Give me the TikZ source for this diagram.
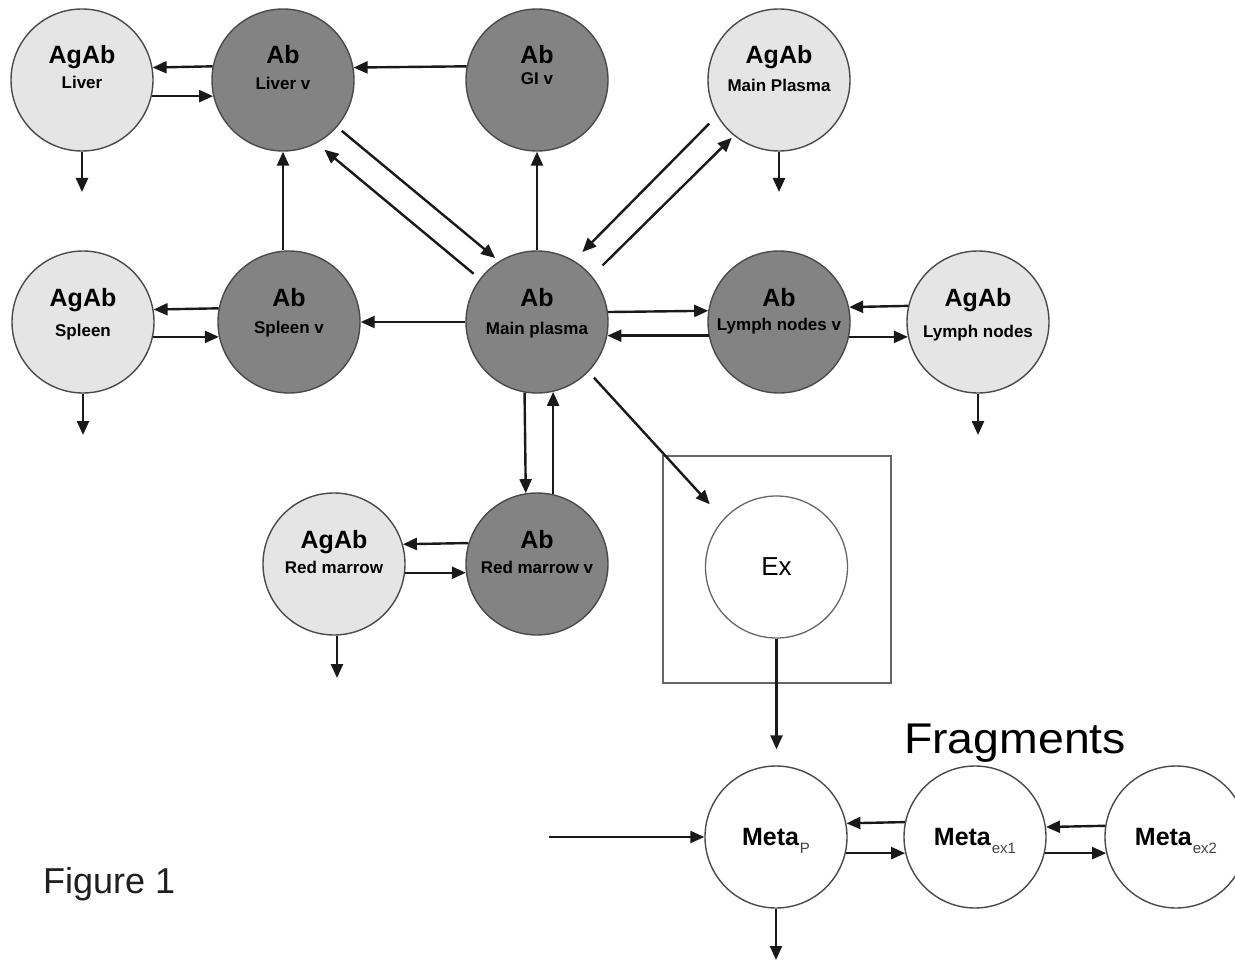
\documentclass[tikz,border=0pt]{standalone}
\usepackage{fontspec}
\setmainfont{Liberation Sans}
\usetikzlibrary{arrows.meta,calc}
\definecolor{lightfill}{HTML}{E5E5E5}
\definecolor{darkfill}{HTML}{838383}
\definecolor{rim}{HTML}{4A4A4A}
\definecolor{boxc}{HTML}{666666}
\definecolor{subgrey}{HTML}{444444}
\newcommand{\twolabel}[4]{%
  \node[ttl] (#1t) at ([yshift=16pt]#1.center) {#2};
  \node[subt] (#1s) at ([yshift=-#4pt]#1.center) {#3};}
\newcommand{\msub}[1]{\kern1pt\raisebox{-8pt}{\fontsize{15}{15}\selectfont\mdseries\color{subgrey}#1}}
\begin{document}
\begin{tikzpicture}[x=1pt,y=-1pt,
  blob/.style={circle, draw=rim, line width=1.4pt, minimum size=142pt, inner sep=0pt},
  agab/.style={blob, fill=lightfill},
  abv/.style={blob, fill=darkfill},
  metac/.style={blob, fill=white},
  ttl/.style={anchor=base, font=\fontsize{25}{25}\selectfont\bfseries, inner sep=0pt},
  subt/.style={anchor=base, font=\fontsize{17}{17}\selectfont\bfseries, inner sep=0pt},
  metat/.style={anchor=base, font=\fontsize{25}{25}\selectfont\bfseries, inner sep=0pt},
  arr/.style={line width=2.4pt, draw=black!90, -{Triangle[length=14pt,width=12pt]}},
]
\useasboundingbox (0,0) rectangle (1235,963);
\clip (0,0) rectangle (1235,963);
\fill[white] (0,0) rectangle (1235,963);

% nodes
\node[agab] (al)  at (82,80)   {};
\node[abv]  (lv)  at (283,80)  {};
\node[abv]  (gi)  at (537,80)  {};
\node[agab] (amp) at (779,80)  {};
\node[agab] (as)  at (83,322)  {};
\node[abv]  (sv)  at (289,322) {};
\node[abv]  (mp)  at (537,322) {};
\node[abv]  (lnv) at (779,322) {};
\node[agab] (aln) at (978,322) {};
\node[agab] (arm) at (334,564) {};
\node[abv]  (rmv) at (537,564) {};
\node[draw=boxc, line width=1.3pt, minimum width=228pt, minimum height=227pt, inner sep=0pt] (exbox) at (777,569.5) {};
\node[blob, fill=white, draw=boxc, line width=1.3pt, font=\fontsize{26}{26}\selectfont] (ex) at (776.5,567) {Ex};
\node[metac] (mP) at (776,837)  {};
\node[metac] (m1) at (975,837)  {};
\node[metac] (m2) at (1176,837) {};

% labels
\twolabel{al}{AgAb}{Liver}{9}
\twolabel{lv}{Ab}{Liver v}{10}
\twolabel{gi}{Ab}{GI v}{5}
\twolabel{amp}{AgAb}{Main Plasma}{12}
\twolabel{as}{AgAb}{Spleen}{14}
\twolabel{sv}{Ab}{Spleen v}{11}
\twolabel{mp}{Ab}{Main plasma}{12}
\twolabel{lnv}{Ab}{Lymph nodes v}{8}
\twolabel{aln}{AgAb}{Lymph nodes}{15}
\twolabel{arm}{AgAb}{Red marrow}{9}
\twolabel{rmv}{Ab}{Red marrow v}{9}
\node[metat] (mPt) at ([yshift=-8pt]mP.center) {Meta\msub{P}};
\node[metat] (m1t) at ([yshift=-8pt]m1.center) {Meta\msub{ex1}};
\node[metat] (m2t) at ([yshift=-8pt]m2.center) {Meta\msub{ex2}};
\node[anchor=base, inner sep=0pt, font=\fontsize{43}{43}\selectfont] (frag) at (1015,753) {\scalebox{1.08}[1]{Fragments}};
\node[anchor=base west, inner sep=0pt, font=\fontsize{36}{36}\selectfont, text=black!88] (fig) at (43,893) {Figure 1};

% free ends
\coordinate (aldn)  at (82,192);
\coordinate (ampdn) at (779,192);
\coordinate (asdn)  at (83,435);
\coordinate (alndn) at (978,435);
\coordinate (armdn) at (337,678);
\coordinate (inP)   at (549,837);
\coordinate (mPdn)  at (776,960);

% row 1
\draw[arr] (lv.169.5) -- (al.10.5);
\draw[arr] (al.-13) -- (lv.193);
\draw[arr] (gi.169.5) -- (lv.10.5);
\draw[arr] (al.south) -- (aldn);
\draw[arr] (amp.south) -- (ampdn);
\draw[arr] (lv.south |- sv.north) -- (lv.south);
\draw[arr] (mp.north) -- (gi.south);
\draw[arr, shorten <=6pt, shorten >=5pt] (lv.-41) -- (mp.122);
\draw[arr, shorten <=8pt, shorten >=10pt] (mp.143) -- (lv.-62);
\draw[arr, shorten <=11pt, shorten >=12pt] (amp.210) -- (mp.59);
\draw[arr, shorten <=15pt, shorten >=3pt] (mp.40) -- (amp.231);

% row 2
\draw[arr] (sv.169.5) -- (as.10.5);
\draw[arr] (as.-12.2) -- (sv.192.2);
\draw[arr] (mp.west) -- (sv.east);
\draw[arr] (as.south) -- (asdn);
\draw[arr] (mp.8.1) -- (lnv.171.9);
\draw[arr] (lnv.191.4) -- (mp.-11.4);
\draw[arr] (aln.167.8) -- (lnv.12.2);
\draw[arr] (lnv.-12.2) -- (aln.192.2);
\draw[arr] (aln.south) -- (alndn);
\draw[arr, shorten <=8pt, shorten >=20pt] (mp.-44.5) -- (ex.138);

% red marrow
\draw[arr] (mp.260.3) -- (rmv.99.7);
\draw[arr] (rmv.77) -- (mp.283);
\draw[arr] (rmv.163.6) -- (arm.16.4);
\draw[arr] (arm.-7.3) -- (rmv.187.3);
\draw[arr] (armdn |- arm.south) -- (armdn);

% ex and metabolites
\draw[arr, shorten >=16pt] (ex.south) -- (ex.south |- mP.north);
\draw[arr] (inP) -- (mP.west);
\draw[arr] (m1.168.6) -- (mP.11.4);
\draw[arr] (mP.-13) -- (m1.193);
\draw[arr] (m2.171.1) -- (m1.8.9);
\draw[arr] (m1.-13.9) -- (m2.193.9);
\draw[arr] (mP.south) -- (mPdn);
\end{tikzpicture}
\end{document}
